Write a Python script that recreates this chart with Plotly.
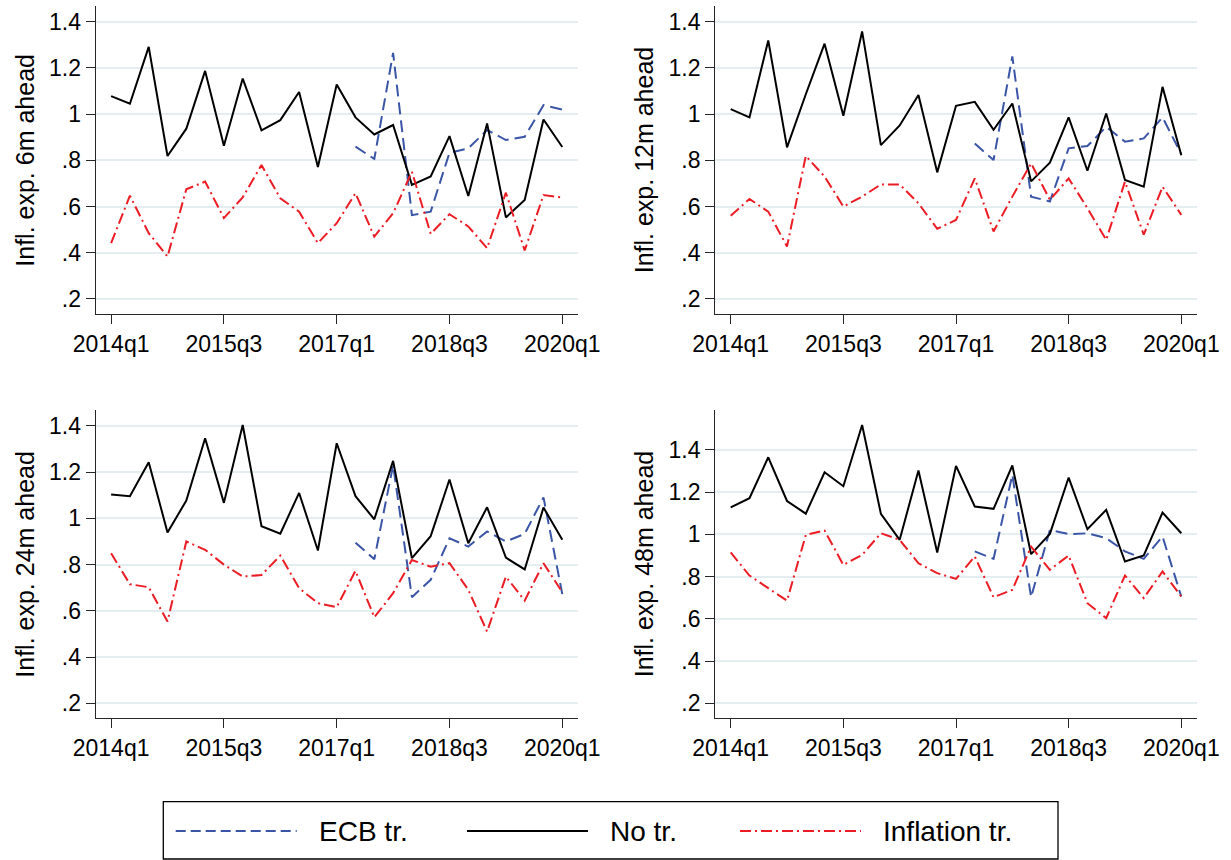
import plotly.graph_objects as go

W, H = 1231, 860

# ---------------- data ----------------
quarters = ["2014q1", "2014q2", "2014q3", "2014q4", "2015q1", "2015q2", "2015q3", "2015q4",
            "2016q1", "2016q2", "2016q3", "2016q4", "2017q1", "2017q2", "2017q3", "2017q4",
            "2018q1", "2018q2", "2018q3", "2018q4", "2019q1", "2019q2", "2019q3", "2019q4",
            "2020q1"]
x_tick_labels = ["2014q1", "2015q3", "2017q1", "2018q3", "2020q1"]
y_tick_vals = [0.2, 0.4, 0.6, 0.8, 1.0, 1.2, 1.4]
y_tick_text = [".2", ".4", ".6", ".8", "1", "1.2", "1.4"]
series_names = ["ECB tr.", "No tr.", "Inflation tr."]
panel_titles = ["Infl. exp. 6m ahead", "Infl. exp. 12m ahead",
                "Infl. exp. 24m ahead", "Infl. exp. 48m ahead"]

# 6 months ahead
no_tr_6m = [1.078, 1.045, 1.291, 0.819, 0.937, 1.187, 0.863, 1.154, 0.930, 0.974, 1.096, 0.771,
            1.128, 0.986, 0.912, 0.953, 0.694, 0.730, 0.905, 0.646, 0.960, 0.553, 0.629, 0.977,
            0.858]
ecb_tr_6m = [None, None, None, None, None, None, None, None, None, None, None, None, None,
             0.859, 0.806, 1.265, 0.563, 0.578, 0.833, 0.852, 0.931, 0.888, 0.902, 1.039, 1.020]
infl_tr_6m = [0.442, 0.647, 0.485, 0.384, 0.675, 0.708, 0.550, 0.640, 0.780, 0.636, 0.578, 0.442,
              0.528, 0.658, 0.470, 0.571, 0.751, 0.482, 0.567, 0.514, 0.420, 0.660, 0.410, 0.650,
              0.639]

# 12 months ahead
no_tr_12m = [1.022, 0.986, 1.319, 0.856, 1.086, 1.305, 0.993, 1.358, 0.866, 0.951, 1.083, 0.748,
             1.036, 1.053, 0.932, 1.046, 0.709, 0.790, 0.986, 0.755, 1.003, 0.715, 0.686, 1.118,
             0.822]
ecb_tr_12m = [None, None, None, None, None, None, None, None, None, None, None, None, None,
              0.873, 0.801, 1.250, 0.643, 0.622, 0.852, 0.862, 0.945, 0.881, 0.895, 0.986, 0.827]
infl_tr_12m = [0.560, 0.633, 0.578, 0.427, 0.819, 0.730, 0.600, 0.643, 0.696, 0.696, 0.614, 0.504,
               0.542, 0.722, 0.492, 0.643, 0.787, 0.629, 0.722, 0.593, 0.456, 0.708, 0.478, 0.686,
               0.564]

# 24 months ahead
no_tr_24m = [1.103, 1.096, 1.243, 0.939, 1.077, 1.347, 1.067, 1.404, 0.966, 0.934, 1.110, 0.861,
             1.325, 1.096, 0.996, 1.249, 0.828, 0.923, 1.168, 0.892, 1.048, 0.830, 0.779, 1.047,
             0.907]
ecb_tr_24m = [None, None, None, None, None, None, None, None, None, None, None, None, None,
              0.895, 0.823, 1.230, 0.659, 0.734, 0.914, 0.878, 0.943, 0.900, 0.933, 1.091, 0.672]
infl_tr_24m = [0.849, 0.715, 0.702, 0.554, 0.900, 0.864, 0.800, 0.748, 0.755, 0.839, 0.698, 0.633,
               0.616, 0.773, 0.572, 0.676, 0.820, 0.791, 0.806, 0.691, 0.510, 0.748, 0.644, 0.806,
               0.680]

# 48 months ahead
no_tr_48m = [1.128, 1.171, 1.365, 1.158, 1.098, 1.294, 1.228, 1.518, 1.097, 0.974, 1.302, 0.914,
             1.324, 1.132, 1.121, 1.326, 0.906, 1.002, 1.269, 1.024, 1.116, 0.871, 0.900, 1.103,
             1.005]
ecb_tr_48m = [None, None, None, None, None, None, None, None, None, None, None, None, None,
              0.919, 0.884, 1.282, 0.702, 1.021, 1.001, 1.005, 0.982, 0.919, 0.884, 0.990, 0.705]
infl_tr_48m = [0.914, 0.805, 0.745, 0.686, 0.997, 1.018, 0.855, 0.903, 1.005, 0.974, 0.863, 0.816,
               0.789, 0.895, 0.702, 0.737, 0.942, 0.832, 0.900, 0.674, 0.603, 0.805, 0.698, 0.824,
               0.705]

panels = [
    (ecb_tr_6m, no_tr_6m, infl_tr_6m),
    (ecb_tr_12m, no_tr_12m, infl_tr_12m),
    (ecb_tr_24m, no_tr_24m, infl_tr_24m),
    (ecb_tr_48m, no_tr_48m, infl_tr_48m),
]

# ---------------- style ----------------
FONT = "Liberation Sans, Arial, Helvetica, sans-serif"
colors = ["#3b55a6", "#000000", "#ec1c24"]
dashes = ["12px,6px", "solid", "11px,4px,2px,4px"]
legend_dashes = ["10px,5px", "solid", "11px,4px,2px,4px"]
AXC = "#262626"
GRIDC = "#e4edf0"

# panel geometry in pixels: (left, right, top, bottom), y ranges
geom = [
    (95.7, 577.7, 6.0, 314.0),
    (715.3, 1196.7, 6.0, 314.0),
    (95.7, 577.7, 410.0, 718.0),
    (715.3, 1196.7, 410.0, 718.0),
]
yranges = [[0.135, 1.468], [0.135, 1.468], [0.136, 1.469], [0.130, 1.589]]

fig = go.Figure()
layout = dict(
    width=W, height=H, autosize=False,
    margin=dict(l=0, r=0, t=0, b=0, pad=0, autoexpand=False),
    paper_bgcolor="white", plot_bgcolor="white",
    showlegend=False,
    font=dict(family=FONT, color="black"),
    shapes=[], annotations=[],
)

for p, (series, (l, r, t, b), yr) in enumerate(zip(panels, geom, yranges)):
    k = "" if p == 0 else str(p + 1)
    for s, vals in enumerate(series):
        fig.add_trace(go.Scatter(
            x=quarters, y=vals, mode="lines", name=series_names[s],
            line=dict(color=colors[s], width=2, dash=dashes[s]),
            xaxis="x" + k, yaxis="y" + k, connectgaps=False,
        ))
    layout["xaxis" + k] = dict(
        domain=[l / W, r / W], anchor="y" + k, type="category",
        categoryorder="array", categoryarray=quarters, automargin=False,
        range=[-0.82, 24.82], tickmode="array", tickvals=x_tick_labels, ticktext=x_tick_labels,
        showline=True, linecolor=AXC, linewidth=1.3, ticks="outside", ticklen=9,
        tickwidth=1.3, tickcolor=AXC, showgrid=False, zeroline=False,
        tickfont=dict(size=23, family=FONT, color="black"),
    )
    layout["yaxis" + k] = dict(
        domain=[1 - b / H, 1 - t / H], anchor="x" + k, range=yr, automargin=False,
        tickmode="array", tickvals=y_tick_vals, ticktext=y_tick_text,
        showline=True, linecolor=AXC, linewidth=1.3, ticks="outside", ticklen=9,
        tickwidth=1.3, tickcolor=AXC, showgrid=True, gridcolor=GRIDC, gridwidth=1.5,
        zeroline=False, tickfont=dict(size=23, family=FONT, color="black"),
    )
    layout["annotations"].append(dict(
        text=panel_titles[p], xref="paper", yref="paper",
        x=(l - 71) / W, y=1 - (t + b) / 2 / H, xanchor="center", yanchor="middle",
        textangle=-90, showarrow=False, font=dict(size=25, family=FONT, color="black"),
    ))

# legend box drawn manually (long key samples as in the original)
lx0, lx1, ly0, ly1 = 163.3, 1058.0, 801.7, 859.0
layout["shapes"].append(dict(type="rect", xref="paper", yref="paper",
                             x0=lx0 / W, x1=lx1 / W, y0=1 - ly1 / H, y1=1 - ly0 / H,
                             line=dict(color="black", width=1.3), fillcolor="white"))
key_starts = [175.7, 467.0, 740.0]
key_len = 121.0
ly = 831.0
for s in range(3):
    x0 = key_starts[s]
    layout["shapes"].append(dict(type="line", xref="paper", yref="paper",
                                 x0=x0 / W, x1=(x0 + key_len) / W, y0=1 - ly / H, y1=1 - ly / H,
                                 line=dict(color=colors[s], width=2.2, dash=legend_dashes[s])))
    layout["annotations"].append(dict(
        text=series_names[s], xref="paper", yref="paper",
        x=(x0 + key_len + 20) / W, y=1 - ly / H, xanchor="left", yanchor="middle",
        showarrow=False, font=dict(size=28, family=FONT, color="black"),
    ))

fig.update_layout(**layout)
fig.write_html("out.html")
